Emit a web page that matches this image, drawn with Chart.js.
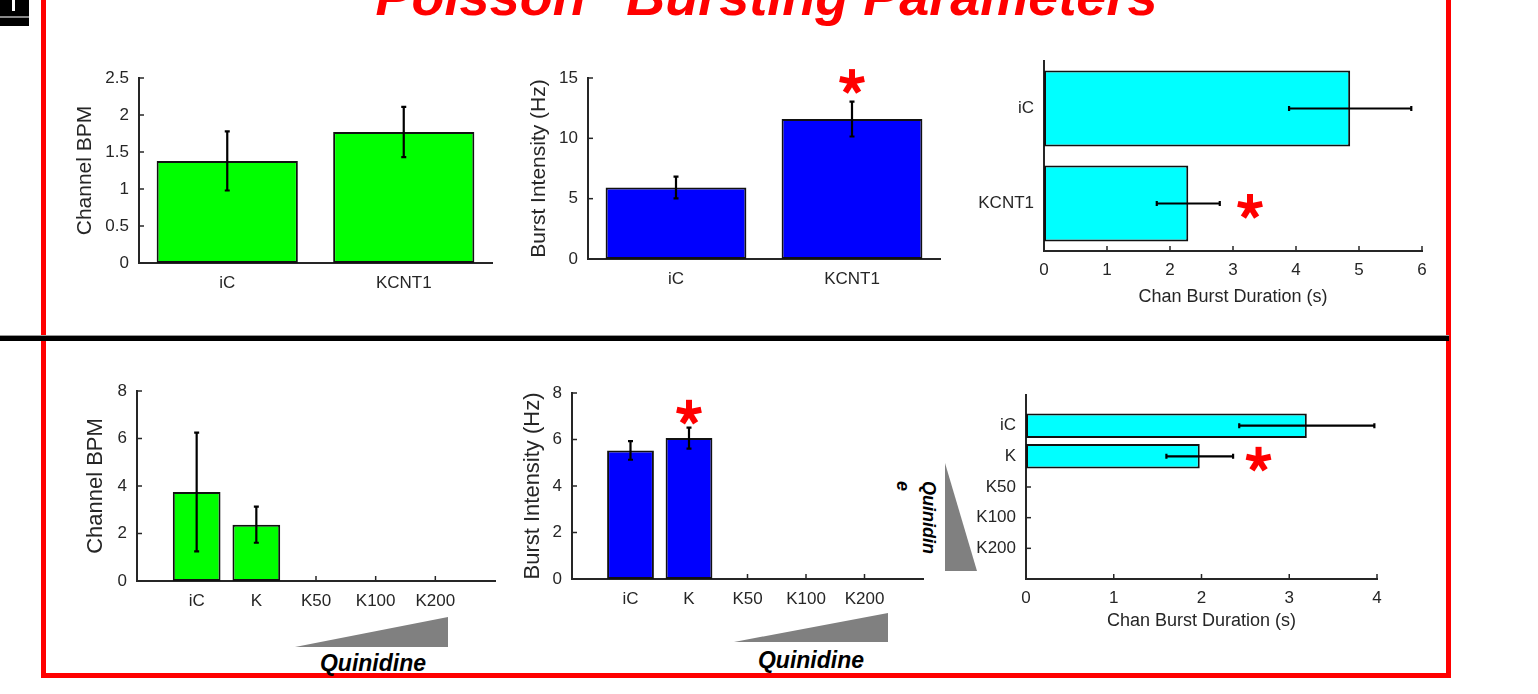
<!DOCTYPE html>
<html><head><meta charset="utf-8">
<script src="https://cdn.jsdelivr.net/npm/chart.js@4.4.1/dist/chart.umd.min.js"></script>
<style>
html,body{margin:0;padding:0;background:#fff;width:1538px;height:694px;overflow:hidden;position:relative;font-family:"Liberation Sans",Arial,sans-serif;}
.abs{position:absolute;}
canvas{position:absolute;}
.quin{position:absolute;font:italic bold 23px/23px "Liberation Sans",Arial,sans-serif;color:#000;text-align:center;width:200px;white-space:nowrap;}
</style></head><body>
<div class="abs" style="left:0;top:0;width:29px;height:26px;background:#000;"></div>
<div class="abs" style="left:12px;top:0;width:3px;height:11px;background:#fff;"></div>
<div class="abs" style="left:0;top:16px;width:29px;height:2px;background:#888;"></div>
<div class="abs" style="left:350px;top:-31px;font:italic bold 54px/54px 'Liberation Sans',Arial,sans-serif;color:#ff0000;white-space:nowrap;">"Poisson" Bursting Parameters</div>
<div class="abs" style="left:41px;top:0;width:5px;height:678px;background:#ff0000;"></div>
<div class="abs" style="left:1446px;top:0;width:5px;height:678px;background:#ff0000;"></div>
<div class="abs" style="left:41px;top:673px;width:1410px;height:5px;background:#ff0000;"></div>
<div class="abs" style="left:0;top:335px;width:1449px;height:1px;background:#999;"></div>
<div class="abs" style="left:0;top:336px;width:1449px;height:5px;background:#000;"></div>
<svg class="abs" style="left:0;top:0" width="1538" height="694">
  <polygon points="295,647 448,617 448,647" fill="#808080"/>
  <polygon points="734,642 888,613 888,642" fill="#808080"/>
  <polygon points="945,463 945,571 977,571" fill="#808080"/>
</svg>
<div class="quin" style="left:273px;top:652px;">Quinidine</div>
<div class="quin" style="left:711px;top:649px;">Quinidine</div>
<div class="abs" style="left:942px;top:481px;width:76px;font:italic bold 18px/26px 'Liberation Sans',Arial,sans-serif;color:#000;word-break:break-all;transform-origin:0 0;transform:rotate(90deg);">Quinidine</div>

<canvas id="c1" width="452" height="240" style="left:50px;top:60px"></canvas>
<canvas id="c2" width="445" height="240" style="left:505px;top:60px"></canvas>
<canvas id="c3" width="485" height="270" style="left:955px;top:45px"></canvas>
<canvas id="c4" width="455" height="240" style="left:50px;top:375px"></canvas>
<canvas id="c5" width="420" height="240" style="left:510px;top:375px"></canvas>
<canvas id="c6" width="470" height="270" style="left:960px;top:375px"></canvas>

<script>
// ---- data ----
const topCategories = ['iC', 'KCNT1'];
const topBpm = [1.38, 1.77];
const topBpmErr = [0.40, 0.34];
const topIntensity = [5.92, 11.6];
const topIntensityErr = [0.9, 1.45];
const topIntensityStar = [null, 14.7];
const topDuration = [4.86, 2.29];
const topDurationErr = [0.97, 0.5];
const topDurationStar = [null, 3.27];

const bottomCategories = ['iC', 'K', 'K50', 'K100', 'K200'];
const bottomBpm = [3.75, 2.37, 0, 0, 0];
const bottomBpmErr = [2.5, 0.76, 0, 0, 0];
const bottomIntensity = [5.53, 6.06, 0, 0, 0];
const bottomIntensityErr = [0.4, 0.45, 0, 0, 0];
const bottomIntensityStar = [null, 7.17, null, null, null];
const bottomDuration = [3.2, 1.98, 0, 0, 0];
const bottomDurationErr = [0.77, 0.38, 0, 0, 0];
const bottomDurationStar = [null, 2.65, null, null, null];

const AXIS = '#262626';
const TEXT = '#262626';
Chart.defaults.font.family = '"Liberation Sans", Arial, sans-serif';
Chart.defaults.color = TEXT;
Chart.defaults.animation = false;

function drawStar(ctx, x, y) {
  ctx.save();
  ctx.strokeStyle = '#ff0000';
  ctx.lineWidth = 6;
  ctx.lineCap = 'butt';
  const r = 12.5;
  [0, 78, -78, 148, -148].forEach(a => {
    const t = a * Math.PI / 180;
    ctx.beginPath();
    ctx.moveTo(x, y);
    ctx.lineTo(x + r * Math.sin(t), y - r * Math.cos(t));
    ctx.stroke();
  });
  ctx.restore();
}

const matlabPlugin = {
  id: 'matlab',
  beforeDatasetsDraw(chart) {
    const ctx = chart.ctx, ca = chart.chartArea;
    ctx.save();
    ctx.strokeStyle = AXIS;
    ctx.lineWidth = 1.5;
    Object.values(chart.scales).forEach(s => {
      s.ticks.forEach((t, i) => {
        if (t.label === '' || t.label == null) return;
        const p = s.getPixelForTick(i);
        ctx.beginPath();
        if (s.isHorizontal()) { ctx.moveTo(p, ca.bottom); ctx.lineTo(p, ca.bottom - 5); }
        else { ctx.moveTo(ca.left, p); ctx.lineTo(ca.left + 5, p); }
        ctx.stroke();
      });
    });
    ctx.restore();
  },
  afterDatasetsDraw(chart) {
    const o = chart.options.plugins.matlab;
    const ctx = chart.ctx;
    const horiz = chart.options.indexAxis === 'y';
    const vScale = horiz ? chart.scales.x : chart.scales.y;
    const vals = chart.data.datasets[0].data;
    const meta = chart.getDatasetMeta(0);
    ctx.save();
    ctx.strokeStyle = '#000';
    ctx.lineWidth = 2.2;
    meta.data.forEach((el, i) => {
      const v = vals[i], e = o.errors[i];
      if (v == null || !e) return;
      const lo = vScale.getPixelForValue(v - e), hi = vScale.getPixelForValue(v + e);
      ctx.beginPath();
      if (horiz) {
        ctx.moveTo(lo, el.y); ctx.lineTo(hi, el.y);
        ctx.moveTo(lo, el.y - 2.5); ctx.lineTo(lo, el.y + 2.5);
        ctx.moveTo(hi, el.y - 2.5); ctx.lineTo(hi, el.y + 2.5);
      } else {
        ctx.moveTo(el.x, lo); ctx.lineTo(el.x, hi);
        ctx.moveTo(el.x - 2.5, lo); ctx.lineTo(el.x + 2.5, lo);
        ctx.moveTo(el.x - 2.5, hi); ctx.lineTo(el.x + 2.5, hi);
      }
      ctx.stroke();
    });
    ctx.restore();
    (o.stars || []).forEach((s, i) => {
      if (s == null) return;
      const el = meta.data[i];
      const p = vScale.getPixelForValue(s);
      if (horiz) drawStar(ctx, p, el.y + 3); else drawStar(ctx, el.x, p);
    });
  }
};

function zeroPad(s) { s.paddingTop = 0; s.paddingBottom = 0; s.paddingLeft = 0; s.paddingRight = 0; }

function barChart(id, o) {
  const horiz = !!o.horizontal;
  const padded = !!o.padded;
  const pad = a => a ? (padded ? [null, ...a, null] : a) : a;
  const labels = padded ? ['', ...o.categories, ''] : o.categories;
  const idxScale = {
    type: 'category', offset: !padded,
    grid: { display: false, drawTicks: false },
    border: { display: true, color: AXIS, width: 2 },
    ticks: { autoSkip: false, maxRotation: 0, padding: 10, color: TEXT, font: { size: 17 } },
    afterFit: s => { if (horiz) s.width = o.axisW; else s.height = o.axisH; zeroPad(s); }
  };
  const valScale = {
    type: 'linear', min: o.min, max: o.max,
    grid: { display: false, drawTicks: false },
    border: { display: true, color: AXIS, width: 2 },
    ticks: { stepSize: o.step, padding: horiz ? 9 : 10, color: TEXT, font: { size: 17 },
             callback: v => String(Number(v.toFixed(3))) },
    title: { display: true, text: o.title, color: TEXT, font: { size: o.titleSize }, padding: o.titlePad },
    afterFit: s => { if (horiz) s.height = o.axisH; else s.width = o.axisW; zeroPad(s); }
  };
  const scales = horiz ? { x: valScale, y: idxScale } : { x: idxScale, y: valScale };
  return new Chart(document.getElementById(id), {
    type: 'bar',
    data: {
      labels: labels,
      datasets: [{
        data: pad(o.values),
        backgroundColor: o.color,
        borderColor: '#111',
        borderWidth: 2,
        borderSkipped: false,
        categoryPercentage: 0.8,
        barPercentage: 1.0
      }]
    },
    options: {
      indexAxis: horiz ? 'y' : 'x',
      responsive: false,
      maintainAspectRatio: false,
      devicePixelRatio: 1,
      layout: { padding: { top: o.padT, right: o.padR, left: 0, bottom: 0 } },
      scales: scales,
      plugins: {
        legend: { display: false },
        tooltip: { enabled: false },
        matlab: { errors: pad(o.errors), stars: pad(o.stars) }
      }
    },
    plugins: [matlabPlugin]
  });
}

barChart('c1', { categories: topCategories, values: topBpm, errors: topBpmErr, color: '#00ff00',
  min: 0, max: 2.5, step: 0.5, title: 'Channel BPM', titleSize: 21, titlePad: { top: 23 },
  axisW: 89, axisH: 37, padT: 18, padR: 10 });
barChart('c2', { categories: topCategories, values: topIntensity, errors: topIntensityErr, stars: topIntensityStar, color: '#0000ff',
  min: 0, max: 15, step: 5, title: 'Burst Intensity (Hz)', titleSize: 21, titlePad: { top: 22 },
  axisW: 83, axisH: 41, padT: 18, padR: 10 });
barChart('c3', { categories: topCategories, values: topDuration, errors: topDurationErr, stars: topDurationStar, color: '#00ffff',
  horizontal: true, min: 0, max: 6, step: 1, title: 'Chan Burst Duration (s)', titleSize: 18, titlePad: { bottom: 7 },
  axisW: 89, axisH: 64, padT: 16, padR: 18 });
barChart('c4', { categories: bottomCategories, values: bottomBpm, errors: bottomBpmErr, color: '#00ff00', padded: true,
  min: 0, max: 8, step: 2, title: 'Channel BPM', titleSize: 22, titlePad: { top: 33 },
  axisW: 87, axisH: 34, padT: 16, padR: 10 });
barChart('c5', { categories: bottomCategories, values: bottomIntensity, errors: bottomIntensityErr, stars: bottomIntensityStar, color: '#0000ff', padded: true,
  min: 0, max: 8, step: 2, title: 'Burst Intensity (Hz)', titleSize: 22, titlePad: { top: 10 },
  axisW: 62, axisH: 36, padT: 18, padR: 7 });
barChart('c6', { categories: bottomCategories, values: bottomDuration, errors: bottomDurationErr, stars: bottomDurationStar, color: '#00ffff', padded: true,
  horizontal: true, min: 0, max: 4, step: 1, title: 'Chan Burst Duration (s)', titleSize: 18, titlePad: { bottom: 13 },
  axisW: 66, axisH: 66, padT: 20, padR: 53 });
</script>
</body></html>
